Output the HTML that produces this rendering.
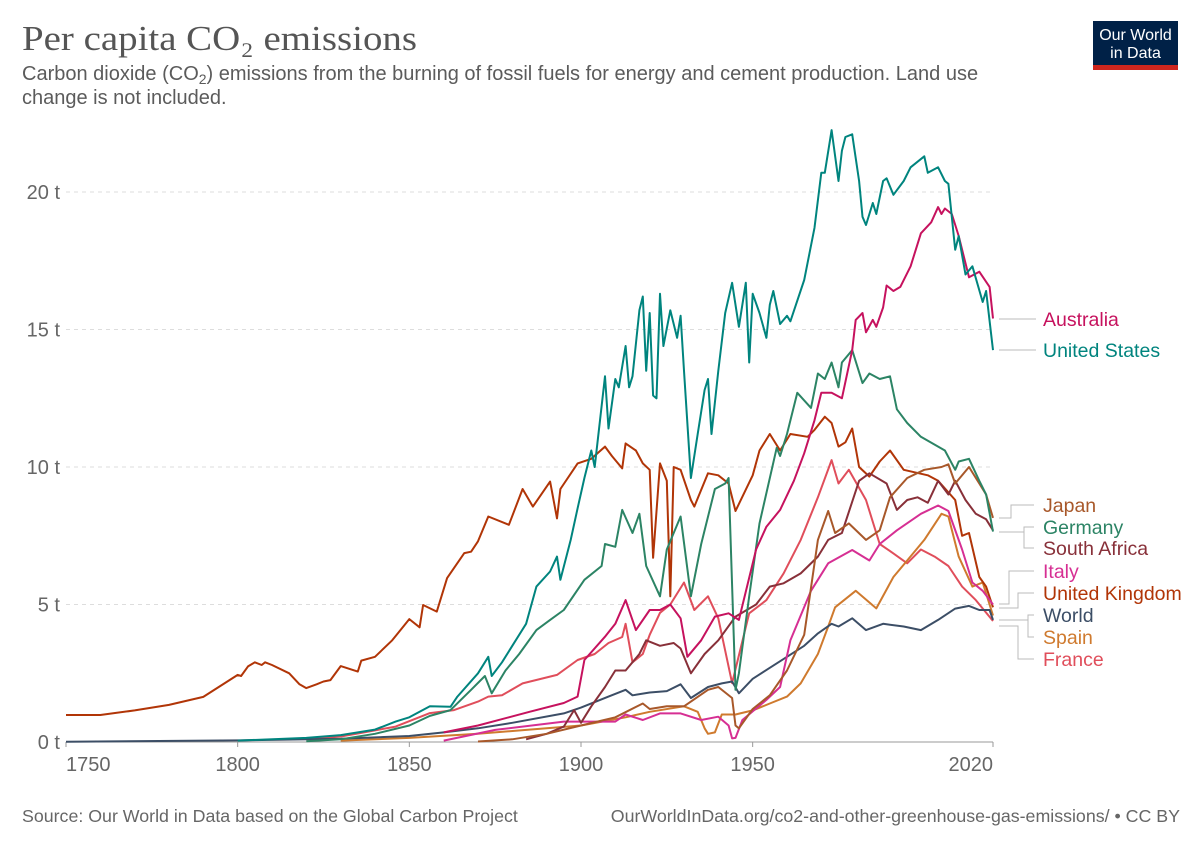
<!DOCTYPE html>
<html><head><meta charset="utf-8"><style>
body{margin:0;background:#fff;width:1200px;height:847px;overflow:hidden;font-family:"Liberation Sans",sans-serif}
svg{display:block}
</style></head><body>
<svg id="chart" width="1200" height="847" viewBox="0 0 1200 847" xmlns="http://www.w3.org/2000/svg">
<text x="22" y="50" font-family="Liberation Serif, serif" font-size="35" fill="#555" textLength="395" lengthAdjust="spacingAndGlyphs">Per capita CO₂ emissions</text>
<text x="22" y="80" font-size="20" fill="#5b5b5b">Carbon dioxide (CO<tspan font-size="14" dy="4">2</tspan><tspan dy="-4">) emissions from the burning of fossil fuels for energy and cement production. Land use</tspan></text>
<text x="22" y="104" font-size="20" fill="#5b5b5b">change is not included.</text>
<g>
<rect x="1093" y="21" width="85" height="49" fill="#002147"/>
<rect x="1093" y="65" width="85" height="5" fill="#ce261e"/>
<text x="1135.5" y="40" font-size="16" fill="#fff" text-anchor="middle">Our World</text>
<text x="1135.5" y="58" font-size="16" fill="#fff" text-anchor="middle">in Data</text>
</g>
<g id="grid"></g><g id="axes"></g><g id="lines"></g>
<g fill="none" stroke="#bbb" stroke-width="1">
<path d="M999 319H1036"/><path d="M999 350H1036"/>
<path d="M999 518H1011V505H1034"/>
<path d="M999 532H1024V527H1034"/><path d="M1024 532V548H1034"/>
<path d="M999 604H1009V571H1034"/><path d="M999 608H1018V593H1034"/>
<path d="M999 620H1028V615H1034"/><path d="M1028 620V637H1034"/>
<path d="M999 626H1018V659H1034"/>
</g>
<g id="labels" font-size="19.5"></g>
<text x="22" y="822" font-size="17.8" fill="#666">Source: Our World in Data based on the Global Carbon Project</text>
<text x="1180" y="822" font-size="17.8" fill="#666" text-anchor="end">OurWorldInData.org/co2-and-other-greenhouse-gas-emissions/ • CC BY</text>
</svg>
<script>
const yTicks=[0,5,10,15,20];
const yTickLabels=["0 t","5 t","10 t","15 t","20 t"];
const xTicks=[1750,1800,1850,1900,1950,2020];
const xTickLabels=["1750","1800","1850","1900","1950","2020"];
const countryNames=["France","Spain","World","United Kingdom","Italy","South Africa","Japan","Germany","Australia","United States"];
const ukYears=[1750,1760,1770,1780,1790,1800,1801,1803,1805,1807,1808,1810,1815,1818,1820,1823,1825,1827,1830,1835,1836,1840,1845,1850,1853,1854,1858,1861,1866,1868,1870,1873,1879,1883,1886,1891,1893,1894,1899,1903,1907,1909,1912,1913,1916,1918,1920,1921,1923,1925,1926,1927,1929,1932,1933,1937,1940,1943,1945,1950,1952,1955,1958,1961,1966,1968,1971,1973,1975,1977,1979,1981,1984,1987,1990,1994,2001,2004,2009,2011,2013,2016,2018,2020];
const ukValues=[0.98,0.98,1.15,1.35,1.64,2.44,2.4,2.75,2.9,2.8,2.9,2.8,2.5,2.1,1.96,2.1,2.2,2.25,2.76,2.56,2.96,3.1,3.7,4.47,4.17,4.98,4.74,5.96,6.87,6.92,7.3,8.2,7.9,9.2,8.56,9.47,8.13,9.2,10.13,10.3,10.74,10.4,9.95,10.86,10.6,10.13,9.9,6.7,10.13,9.5,5.3,10.0,9.9,8.8,8.56,9.77,9.7,9.4,8.4,9.7,10.6,11.2,10.6,11.2,11.1,11.35,11.83,11.6,10.74,10.9,11.4,10.0,9.65,10.2,10.6,9.9,9.7,9.5,8.8,7.5,7.6,6.0,5.65,4.9];
const usYears=[1800,1820,1830,1840,1846,1850,1856,1862,1864,1870,1873,1874,1877,1880,1884,1887,1891,1893,1894,1897,1899,1901,1903,1904,1907,1908,1910,1911,1913,1914,1915,1917,1918,1919,1920,1921,1922,1923,1924,1926,1928,1929,1930,1932,1934,1936,1937,1938,1940,1942,1944,1946,1948,1949,1950,1952,1954,1955,1956,1958,1960,1961,1965,1968,1970,1971,1973,1975,1976,1977,1979,1981,1982,1983,1985,1986,1988,1989,1991,1994,1996,2000,2001,2004,2006,2007,2009,2010,2012,2014,2017,2018,2020];
const usValues=[0.05,0.15,0.25,0.45,0.74,0.9,1.3,1.28,1.65,2.5,3.1,2.4,2.9,3.5,4.3,5.65,6.2,6.74,5.9,7.35,8.5,9.6,10.6,10.0,13.3,11.4,13.2,12.9,14.4,12.9,13.3,15.7,16.2,13.5,15.6,12.6,12.5,16.3,14.4,15.7,14.7,15.5,13.5,9.6,11.2,12.8,13.2,11.2,13.5,15.6,16.7,15.1,16.7,13.8,16.3,15.6,14.7,15.9,16.4,15.2,15.5,15.3,16.8,18.7,20.7,20.7,22.25,20.4,21.5,22.0,22.1,20.4,19.1,18.8,19.6,19.2,20.4,20.5,19.9,20.4,20.9,21.3,20.7,20.9,20.4,20.3,17.9,18.4,17.0,17.3,16.0,16.4,14.25];
const deYears=[1820,1830,1840,1850,1856,1862,1868,1872,1874,1878,1882,1887,1891,1895,1901,1906,1907,1910,1912,1915,1917,1919,1923,1925,1929,1932,1935,1939,1942,1943,1945,1946,1949,1952,1957,1958,1960,1963,1967,1969,1971,1973,1975,1976,1979,1982,1984,1987,1990,1992,1995,1999,2006,2009,2010,2013,2016,2018,2020];
const deValues=[0.03,0.1,0.3,0.6,0.95,1.16,1.9,2.4,1.77,2.6,3.2,4.07,4.44,4.8,5.9,6.4,7.2,7.1,8.44,7.6,8.3,6.4,5.3,7.0,8.2,5.3,7.2,9.2,9.4,9.6,1.9,2.5,5.3,7.95,10.7,10.4,11.2,12.7,12.15,13.4,13.2,13.8,12.9,13.8,14.25,13.05,13.4,13.2,13.3,12.1,11.6,11.1,10.6,9.9,10.2,10.3,9.5,9.0,7.65];
const auYears=[1860,1870,1879,1885,1895,1899,1901,1907,1910,1913,1916,1920,1923,1926,1929,1931,1935,1939,1943,1946,1951,1954,1958,1962,1965,1968,1970,1973,1976,1979,1980,1982,1983,1985,1986,1988,1989,1991,1993,1996,1999,2002,2004,2005,2006,2008,2010,2013,2016,2019,2020];
const auValues=[0.35,0.6,0.9,1.1,1.42,1.65,2.98,3.83,4.3,5.16,4.07,4.8,4.8,5.0,4.5,3.1,3.7,4.56,4.68,4.44,7.0,7.83,8.44,9.5,10.5,11.7,12.7,12.7,12.5,14.25,15.35,15.6,14.9,15.35,15.1,15.8,16.6,16.4,16.55,17.3,18.5,18.9,19.45,19.2,19.4,19.2,18.4,16.9,17.1,16.55,15.4];
const jpYears=[1870,1880,1890,1900,1910,1918,1920,1925,1930,1937,1940,1944,1945,1946,1950,1955,1960,1965,1969,1972,1974,1978,1983,1987,1990,1995,2000,2005,2007,2009,2013,2016,2018,2020];
const jpValues=[0.02,0.1,0.3,0.6,0.9,1.4,1.2,1.3,1.3,1.9,2.0,1.6,0.6,0.5,1.2,1.7,2.6,3.9,7.35,8.4,7.6,7.95,7.35,7.7,8.9,9.6,9.9,10.0,10.1,9.4,10.0,9.4,9.0,8.15];
const zaYears=[1884,1890,1895,1898,1900,1903,1907,1910,1913,1917,1919,1923,1927,1929,1932,1936,1940,1945,1951,1955,1959,1964,1969,1972,1976,1981,1984,1989,1992,1995,1998,2001,2004,2007,2009,2012,2015,2018,2020];
const zaValues=[0.1,0.3,0.56,1.16,0.7,1.3,2.0,2.6,2.6,3.2,3.7,3.5,3.6,3.4,2.5,3.2,3.7,4.56,5.0,5.65,5.77,6.13,6.74,7.35,7.6,9.5,9.77,9.4,8.44,8.8,8.9,8.7,9.5,9.0,9.5,8.8,8.3,8.1,7.7];
const itYears=[1860,1875,1895,1910,1913,1918,1923,1929,1935,1940,1943,1944,1945,1947,1954,1958,1961,1967,1972,1979,1984,1987,1992,1999,2004,2007,2011,2014,2017,2020];
const itValues=[0.05,0.44,0.74,0.74,1.0,0.8,1.04,1.04,0.8,0.92,0.6,0.13,0.15,0.8,1.53,2.0,3.7,5.5,6.5,6.98,6.6,7.2,7.7,8.3,8.6,8.4,7.0,5.8,5.5,5.0];
const esYears=[1830,1850,1870,1885,1900,1913,1920,1930,1934,1936,1937,1939,1941,1945,1950,1955,1960,1964,1969,1972,1974,1980,1986,1991,1995,2000,2005,2007,2010,2014,2017,2020];
const esValues=[0.05,0.15,0.3,0.45,0.6,0.9,1.1,1.3,1.1,0.5,0.3,0.35,1.0,1.0,1.15,1.4,1.65,2.13,3.2,4.2,4.9,5.5,4.86,6.0,6.6,7.35,8.3,8.2,6.74,5.65,5.8,4.6];
const frYears=[1820,1830,1836,1846,1856,1863,1870,1873,1877,1883,1893,1899,1904,1908,1912,1913,1915,1918,1920,1923,1926,1930,1933,1937,1940,1944,1949,1954,1959,1964,1969,1973,1975,1978,1983,1987,1991,1995,1999,2003,2007,2011,2015,2020];
const frValues=[0.1,0.2,0.33,0.56,1.05,1.16,1.47,1.65,1.7,2.13,2.44,2.98,3.2,3.6,3.82,4.3,2.9,3.2,3.9,4.7,5.0,5.8,4.8,5.3,4.5,2.14,4.68,5.16,6.13,7.35,8.9,10.25,9.4,9.9,8.8,7.2,6.86,6.5,7.0,6.74,6.4,5.65,5.16,4.4];
const wdYears=[1750,1800,1830,1850,1860,1870,1880,1895,1900,1908,1913,1915,1920,1925,1929,1932,1937,1941,1944,1946,1950,1955,1960,1965,1969,1973,1975,1979,1983,1988,1994,1999,2004,2009,2013,2016,2019,2020];
const wdValues=[0.01,0.06,0.12,0.22,0.35,0.5,0.7,1.04,1.25,1.65,1.9,1.7,1.8,1.85,2.1,1.6,2.0,2.13,2.2,1.77,2.3,2.7,3.1,3.5,3.95,4.3,4.2,4.5,4.07,4.3,4.2,4.07,4.44,4.85,4.95,4.8,4.8,4.44];

const X0=66,X1=993,Y0=742,PXT=27.5;
function xs(y){return X0+(y-1750)*(X1-X0)/270;}
function ys(v){return Y0-v*PXT;}
const NS="http://www.w3.org/2000/svg";
function mk(tag,attrs,parent){const e=document.createElementNS(NS,tag);for(const k in attrs)e.setAttribute(k,attrs[k]);parent.appendChild(e);return e;}
const grid=document.getElementById('grid'),axes=document.getElementById('axes'),lines=document.getElementById('lines'),labels=document.getElementById('labels');
yTicks.forEach((t,i)=>{
  if(t>0){const g=mk('line',{x1:X0,x2:X1,y1:ys(t),y2:ys(t),stroke:'#ddd','stroke-dasharray':'4,4'},grid);
  
  }
  const tx=mk('text',{x:60,y:ys(t)+7,'font-size':20,fill:'#666','text-anchor':'end'},axes);
  tx.textContent=yTickLabels[i];
  
  
});
const ax=mk('line',{x1:X0,x2:X1,y1:Y0,y2:Y0,stroke:'#999'},axes);


xTicks.forEach((t,i)=>{
  const x=xs(t);
  const tk=mk('line',{x1:x,x2:x,y1:Y0,y2:Y0+5,stroke:'#999'},axes);
  
  
  const anchor=i===0?'start':(i===xTicks.length-1?'end':'middle');
  const tx=mk('text',{x:x,y:Y0+29,'font-size':20,fill:'#666','text-anchor':anchor},axes);
  tx.textContent=xTickLabels[i];
  
  
});
const seriesYears=[frYears,esYears,wdYears,ukYears,itYears,zaYears,jpYears,deYears,auYears,usYears];
const seriesValues=[frValues,esValues,wdValues,ukValues,itValues,zaValues,jpValues,deValues,auValues,usValues];
const colors=["#e04e5b","#cf7a2e","#3c4e66","#b13507","#d62f93","#883039","#a8582a","#2c8465","#c6125e","#00847e"];
const labelY=[659,637,615,593,571,548,505,527,319,350];
countryNames.forEach((n,i)=>{
  const d=seriesYears[i].map((yr,j)=>(j?'L':'M')+xs(yr).toFixed(1)+' '+ys(seriesValues[i][j]).toFixed(1)).join('');
  const p=mk('path',{d:d,fill:'none',stroke:colors[i],'stroke-width':2,'stroke-linejoin':'round'},lines);
  
  
  const t=mk('text',{x:1043,y:labelY[i]+7,fill:colors[i]},labels);
  t.textContent=n;
  
  
});
</script>
</body></html>
